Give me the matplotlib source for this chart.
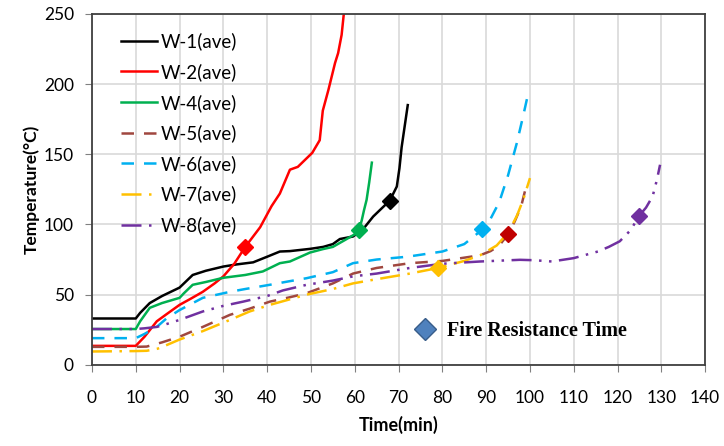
import matplotlib
matplotlib.use('Agg')
import matplotlib.pyplot as plt
from matplotlib.lines import Line2D

plt.rcParams['font.family'] = ['Lato', 'DejaVu Sans']

# time (min) / temperature (C) for each wall specimen
t1 = [0, 10, 11, 13.2, 16, 20, 21, 23, 26, 30, 33, 36.8, 40, 42.9, 45.2, 49.8, 52.8, 55, 56.6, 59.6, 62, 64.2, 66, 68, 69.6, 70.2, 70.7, 71.4, 72.1]
T1 = [33, 33, 37, 44, 49, 55, 58, 64, 67, 70, 71.5, 73, 77, 80.7, 81, 82.6, 84, 86, 89.6, 91.4, 97, 105.6, 111, 117, 127, 140, 155, 170, 185]

t2 = [0, 10, 12, 14.8, 17, 20, 22.5, 25.3, 28, 30, 32.5, 35, 38.4, 41, 42.9, 45.2, 47, 50.3, 52, 52.7, 54, 55.5, 56.2, 57, 57.5]
T2 = [13.5, 13.5, 20, 31, 36, 42.7, 47, 52, 58, 63, 72, 84, 98, 113, 122, 139, 141, 151, 160, 181, 196, 215, 222, 235, 250]

t4 = [0, 10, 11, 13.2, 16, 20, 21, 23, 26, 30, 35, 39, 42.9, 45.2, 49.8, 52.7, 55, 58.1, 60, 61, 61.6, 62.1, 62.7, 63.3, 63.9]
T4 = [25.5, 25.5, 31, 40.6, 44, 47.7, 51, 57, 59, 62, 64, 66.5, 72.4, 73.6, 80, 82.4, 84, 89.5, 93, 96, 103, 110, 117.5, 130, 144]

t5 = [0, 10, 12.5, 16, 20, 25.3, 31.5, 36, 40.6, 45, 49, 55, 59.6, 65, 72.6, 80, 88.6, 91, 93, 95, 96.5, 98, 99.2]
T5 = [12.8, 12.8, 13, 16, 20, 27, 35.6, 40, 45, 48, 51, 58, 65, 69, 72.4, 74, 78, 81, 85, 93, 102, 113, 128]

t6 = [0, 10, 12, 14.8, 17, 20, 25.3, 31.5, 35, 40.6, 45, 49, 55, 59.6, 65, 72, 80, 85, 88.6, 89, 91, 93, 95, 97, 98.5, 99.5]
T6 = [19, 19, 22, 27, 33, 39, 47.7, 52, 54, 57, 59.5, 61.7, 66, 72.4, 75, 77, 80.7, 86, 95, 97, 104, 116, 135, 158, 178, 192]

t7 = [0, 10, 12.5, 15, 17, 20, 25.3, 31.5, 36, 40.6, 45, 49, 55, 59.6, 65, 72.6, 79, 85, 88.6, 92.4, 95, 97, 98.5, 100]
T7 = [9.5, 9.8, 10, 11.5, 14, 18, 24, 32, 38, 42.7, 46.5, 50, 54, 58, 61, 65, 69, 74, 78, 85, 94, 106, 118, 133]

t8 = [0, 10, 12, 14.8, 17, 20, 25.3, 30, 34.5, 40, 43.6, 49, 55, 59.6, 65, 72.6, 80, 88.6, 97.7, 101, 105, 110, 115.5, 118, 120.5, 123, 124.9, 126.5, 128, 129, 129.7]
T8 = [25.5, 25.5, 26, 27, 29, 32, 38, 42, 45, 49, 53, 57, 60, 63, 65, 69, 72, 73.6, 74.8, 74.5, 73.6, 76, 80.7, 84, 88, 96, 106, 112, 120, 132, 142.5]

# fire resistance time for each specimen
frt_t = [68, 35, 61, 95, 89, 79, 125]
frt_T = [117, 84, 96, 93.3, 97, 69, 106]

labels = ['W-1(ave)', 'W-2(ave)', 'W-4(ave)', 'W-5(ave)', 'W-6(ave)', 'W-7(ave)', 'W-8(ave)']
colors = ['#000000', '#FF0000', '#00B050', '#A0473F', '#00B0F0', '#FFC000', '#7030A0']
marker_colors = ['#000000', '#FF0000', '#00B050', '#C00000', '#00B0F0', '#FFC000', '#7030A0']
styles = ['-', '-', '-', (0, (5, 4)), (0, (5, 4)), (0, (8, 3, 1, 3)), (0, (8, 3, 1, 3, 1, 3))]
xs = [t1, t2, t4, t5, t6, t7, t8]
ys = [T1, T2, T4, T5, T6, T7, T8]

fig, ax = plt.subplots(figsize=(7.24, 4.46), dpi=100)
fig.subplots_adjust(left=0.127, right=0.974, bottom=0.182, top=0.969)

for x, y, c, ls, lab in zip(xs, ys, colors, styles, labels):
    ax.plot(x, y, color=c, linestyle=ls, linewidth=1.8, label=lab)

for i in range(len(frt_t)):
    ax.plot(frt_t[i], frt_T[i], marker='D', markersize=8, color=marker_colors[i], linestyle='none')

ax.set_xlim(0, 140)
ax.set_ylim(0, 250)
ax.set_xticks(range(0, 141, 10))
ax.set_yticks(range(0, 251, 50))
ax.grid(True, color='#d9d9d9', linewidth=1.2)
ax.set_axisbelow(True)
for s in ax.spines.values():
    s.set_color('#404040')
    s.set_linewidth(1.3)
ax.tick_params(axis='both', labelsize=12.5, colors='#808080', labelcolor='#000000', length=5)
ax.tick_params(axis='x', pad=13)
ax.tick_params(axis='y', pad=8)

ax.set_xlabel('Time(min)', fontsize=13, fontweight='bold', labelpad=7)
ax.set_ylabel('Temperature(°C)', fontsize=12.5, fontweight='bold', labelpad=3)

leg1 = ax.legend(loc='upper left', bbox_to_anchor=(0.02, 0.995), frameon=False, fontsize=13.5,
                 handlelength=1.9, handletextpad=0.2, labelspacing=0.68)
ax.add_artist(leg1)

frt_handle = Line2D([], [], marker='D', markersize=11, color='#4F81BD', markeredgecolor='#385D8A',
                    linestyle='none', label='Fire Resistance Time')
ax.legend(handles=[frt_handle], loc='center left', bbox_to_anchor=(0.48, 0.095), frameon=False,
          handletextpad=0.1, prop={'family': 'Liberation Serif', 'weight': 'bold', 'size': 14.5})

fig.savefig('out.png', dpi=100)
